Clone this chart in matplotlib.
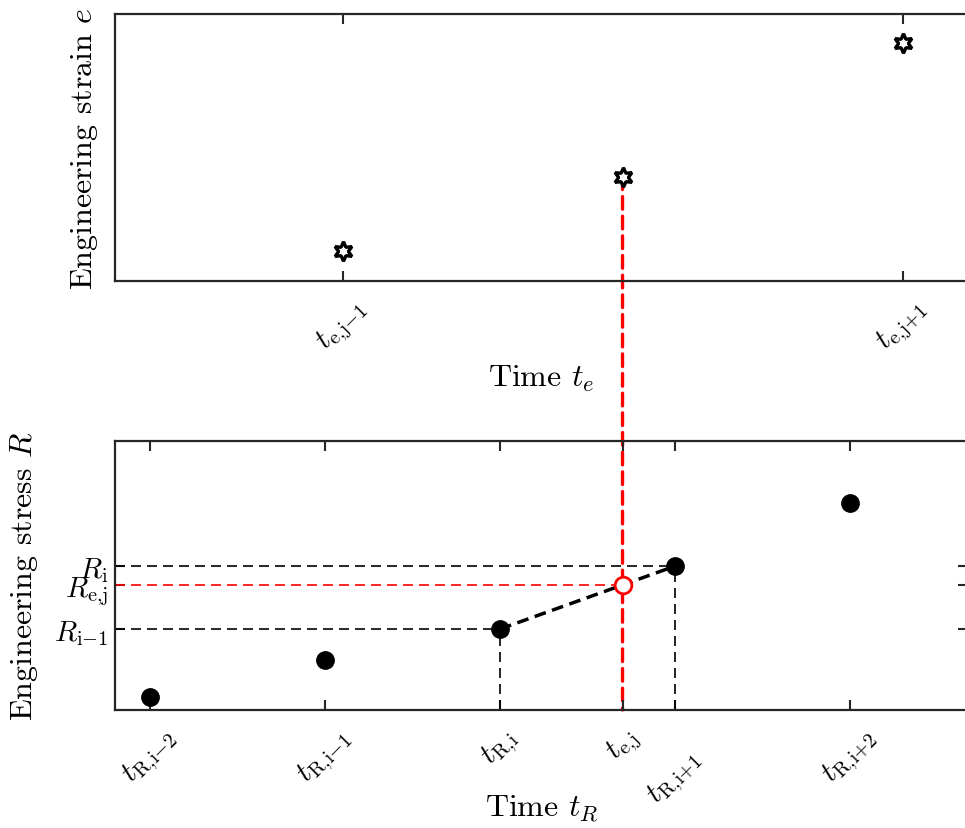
import matplotlib
matplotlib.use('Agg')
from matplotlib import pyplot as plt
from matplotlib.patches import ConnectionPatch
import numpy as np

plt.rcParams['font.family'] = 'serif'
plt.rcParams['font.serif'] = ['cmr10']
plt.rcParams['mathtext.fontset'] = 'cm'
plt.rcParams['axes.unicode_minus'] = False

# stress samples (bottom) and strain samples (top)
t_R = [1, 2, 3, 4, 5]
R = [0.048, 0.186, 0.301, 0.535, 0.770]
t_e = [2.1, 3.7, 5.3]
e = [0.112, 0.39, 0.891]

t_R_labels = [r'$t_{\mathrm{R{,}i{-}2}}$', r'$t_{\mathrm{R{,}i{-}1}}$', r'$t_{\mathrm{R{,}i}}$',
              r'$t_{\mathrm{R{,}i{+}1}}$', r'$t_{\mathrm{R{,}i{+}2}}$']
t_e_labels = [r'$t_{\mathrm{e{,}j{-}1}}$', r'$t_{\mathrm{e{,}j}}$', r'$t_{\mathrm{e{,}j{+}1}}$']
R_labels = [r'$R_{\mathrm{i{-}1}}$', r'$R_{\mathrm{e{,}j}}$', r'$R_{\mathrm{i}}$']

te_j = t_e[1]
R_ej = np.interp(te_j, t_R, R)
i0, i1 = 2, 3  # bracketing stress samples

spine_c = '#262626'
xlim = (0.8, 5.674)

fig = plt.figure(figsize=(9.65, 8.29), dpi=100)
W, H = 965, 829
ax1 = fig.add_axes([115 / W, (H - 282) / H, 853 / W, 267 / H])
ax2 = fig.add_axes([115 / W, (H - 711) / H, 853 / W, 269 / H])

for ax in (ax1, ax2):
    ax.set_xlim(*xlim)
    ax.set_ylim(0, 1)
    ax.patch.set_facecolor('none')
    for s in ax.spines.values():
        s.set_color(spine_c)
        s.set_linewidth(1.6)
    ax.tick_params(direction='in', length=7, width=1.5, color=spine_c,
                   top=True, right=True, labelsize=21, pad=9)

# top: strain samples
ax1.plot(t_e, e, linestyle='none', marker=(6, 1, 0), ms=14, mfc='white',
         mec='black', mew=2.4, zorder=5)
ax1.set_xticks([t_e[0], t_e[2]])
ax1.set_xticklabels([t_e_labels[0], t_e_labels[2]], rotation=45)
ax1.set_yticks([])
ax1.set_xlabel(r'Time $t_e$', fontsize=23)
ax1.xaxis.set_label_coords(0.5, -0.305)
ax1.set_ylabel(r'Engineering strain $e$', fontsize=23)
ax1.yaxis.set_label_coords(-0.018, 0.5)

# bottom: stress samples and interpolation
thin = dict(color='black', lw=1.2, dashes=(6, 3.6))
ax2.plot([xlim[0], t_R[i1]], [R[i1], R[i1]], **thin)
ax2.plot([xlim[0], t_R[i0]], [R[i0], R[i0]], **thin)
ax2.plot([t_R[i0], t_R[i0]], [0, R[i0]], **thin)
ax2.plot([t_R[i1], t_R[i1]], [0, R[i1]], **thin)
ax2.plot([xlim[0], te_j], [R_ej, R_ej], color='red', lw=1.2, dashes=(6, 3.6))
ax2.plot([t_R[i0], t_R[i1]], [R[i0], R[i1]], color='black', lw=2.5,
         dashes=(3.4, 1.9))
ax2.plot(t_R, R, linestyle='none', marker='o', ms=12.5, color='black', zorder=5)
ax2.plot([te_j], [R_ej], linestyle='none', marker='o', ms=12, mfc='white',
         mec='red', mew=2, zorder=6)

xt = [t_R[0], t_R[1], t_R[2], te_j, t_R[3], t_R[4]]
xl = t_R_labels[:3] + [t_e_labels[1]] + t_R_labels[3:]
ax2.set_xticks(xt)
ax2.set_xticklabels(xl, rotation=45)
ax2.set_yticks([R[i0], R_ej, R[i1]])
ax2.set_yticklabels(R_labels)
ax2.tick_params(axis='y', pad=5)
ax2.set_xlabel(r'Time $t_R$', fontsize=23)
ax2.xaxis.set_label_coords(0.5, -0.305)
ax2.set_ylabel(r'Engineering stress $R$', fontsize=23)
ax2.yaxis.set_label_coords(-0.088, 0.5)

ticks = ax2.xaxis.get_major_ticks()
ticks[3].tick1line.set_color('red')
ticks[3].tick2line.set_color('red')
ticks[4].set_pad(24)

# red projection line from strain sample down to the time axis of stress
con = ConnectionPatch(xyA=(te_j, e[1]), coordsA=ax1.transData,
                      xyB=(te_j, 0), coordsB=ax2.transData,
                      color='red', lw=2.4, linestyle=(0, (3.8, 2.1)), zorder=-1)
fig.add_artist(con)

fig.savefig('out.png', dpi=100)
